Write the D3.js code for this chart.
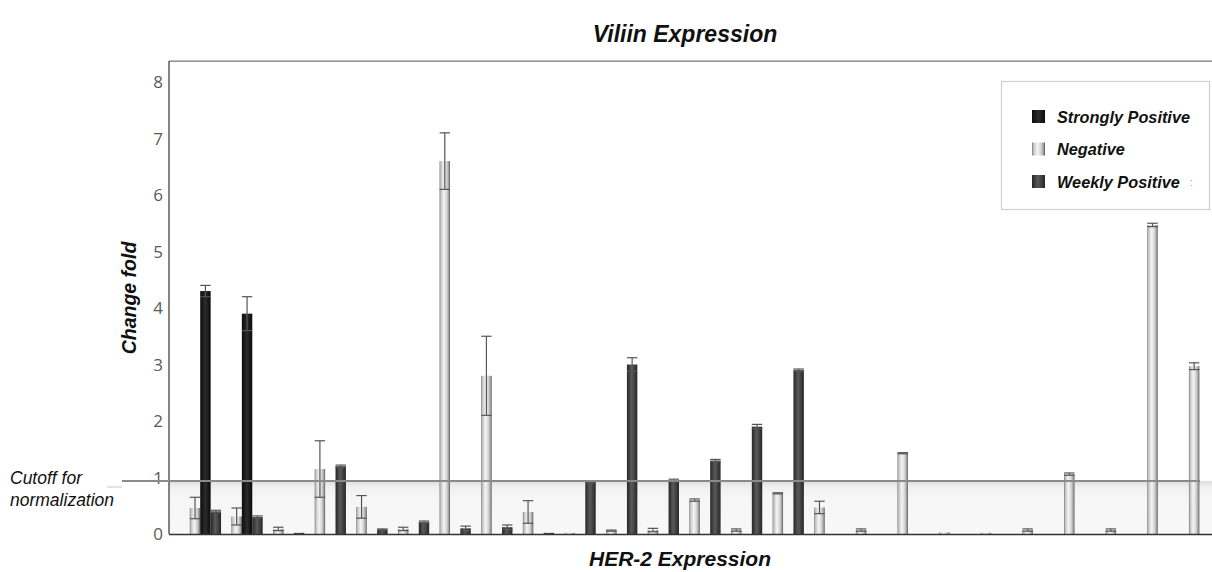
<!DOCTYPE html>
<html><head><meta charset="utf-8">
<script src="https://cdn.jsdelivr.net/npm/d3@7"></script>
<style>html,body{margin:0;padding:0;background:#fff;}svg{display:block;}</style>
</head><body>
<script>
// ---- data ----
const groups = d3.range(1, 26).map(String);
const negative      = [0.46,0.31,0.09,1.15,0.48,0.09,6.6,2.8,0.39,0.02,0.06,0.07,0.6,0.07,0.72,0.47,0.07,1.43,0.03,0.02,0.07,1.06,0.07,5.47,2.97];
const negativeErr   = [0.19,0.15,0.03,0.5,0.2,0.03,0.5,0.7,0.2,0,0.01,0.03,0.02,0.02,0.01,0.11,0.02,0.01,0,0,0.02,0.02,0.02,0.03,0.06];
const strong        = [4.3,3.9,0,0,0,0,0,0,0,0,0,0,0,0,0,0,0,0,0,0,0,0,0,0,0];
const strongErr     = [0.1,0.3,0,0,0,0,0,0,0,0,0,0,0,0,0,0,0,0,0,0,0,0,0,0,0];
const weak          = [0.4,0.3,0.02,1.2,0.08,0.21,0.1,0.12,0.02,0.92,3.0,0.95,1.3,1.9,2.9,0,0,0,0,0,0,0,0,0,0];
const weakErr       = [0.02,0.02,0,0.02,0.01,0.02,0.04,0.04,0,0.02,0.12,0.02,0.02,0.04,0.02,0,0,0,0,0,0,0,0,0,0];
const yTicks = [0,1,2,3,4,5,6,7,8];
const seriesNames = ["Strongly Positive","Negative","Weekly Positive"];
const cutoff = 0.94;
const title = "Viliin Expression", xTitle = "HER-2 Expression", yTitle = "Change fold";
const cutoffLabel = ["Cutoff for","normalization"];

const W = 1212, H = 572;
const svg = d3.select("body").append("svg").attr("width", W).attr("height", H);
const defs = svg.append("defs");
function hgrad(id, stops){
  const g = defs.append("linearGradient").attr("id", id).attr("x1","0%").attr("x2","100%").attr("y1","0%").attr("y2","0%");
  stops.forEach(s => g.append("stop").attr("offset", s[0]).attr("stop-color", s[1]));
}
hgrad("gStrong", [["0%","#0c0c0c"],["50%","#2b2b2b"],["100%","#0a0a0a"]]);
hgrad("gNeg", [["0%","#6a6a6a"],["10%","#c0c0c0"],["42%","#f5f5f5"],["70%","#d2d2d2"],["90%","#989898"],["100%","#4e4e4e"]]);
hgrad("gWeak", [["0%","#262626"],["45%","#5a5a5a"],["100%","#262626"]]);
const vg = defs.append("linearGradient").attr("id","gBand").attr("x1","0").attr("x2","0").attr("y1","0").attr("y2","1");
[["0%","#dedede"],["12%","#f0f0f0"],["30%","#f6f6f6"],["100%","#f8f8f8"]].forEach(s=>vg.append("stop").attr("offset",s[0]).attr("stop-color",s[1]));

const x0 = 169, xEnd = 1212;
const y = d3.scaleLinear().domain([0, 8]).range([534, 82]);
const x = d3.scaleBand().domain(groups).range([x0, x0 + 41.63*25.75]).paddingInner(0.25).paddingOuter(0.5);
const slot = d3.scaleBand().domain(["neg","strong","weak"]).range([0, x.bandwidth()]);

// shaded band below cutoff
svg.append("rect").attr("x", x0).attr("y", y(cutoff)).attr("width", xEnd - x0).attr("height", y(0) - y(cutoff)).attr("fill", "url(#gBand)");

// frame
svg.append("line").attr("x1", x0).attr("x2", xEnd).attr("y1", y(8.37)).attr("y2", y(8.37)).attr("stroke", "#555").attr("stroke-width", 1);
svg.append("line").attr("x1", x0).attr("x2", x0).attr("y1", y(8.37)).attr("y2", y(0)).attr("stroke", "#333").attr("stroke-width", 1.2);

// y axis labels
const yAxis = d3.axisLeft(y).tickValues(yTicks).tickSize(0).tickPadding(6);
const ga = svg.append("g").attr("transform", `translate(${x0},0)`).call(yAxis);
ga.select(".domain").remove();
ga.selectAll("text").attr("font-family", "'Open Sans', sans-serif").attr("font-size", 17).attr("fill", "#5a5a5a").attr("dy", "0.35em");

// bars
const series = [
  {key:"neg", vals:negative, errs:negativeErr, fill:"url(#gNeg)"},
  {key:"strong", vals:strong, errs:strongErr, fill:"url(#gStrong)"},
  {key:"weak", vals:weak, errs:weakErr, fill:"url(#gWeak)"}
];
series.forEach(s => {
  const data = groups.map((g,i)=>({g, v:s.vals[i], e:s.errs[i]})).filter(d=>d.v>0);
  const gg = svg.append("g");
  gg.selectAll("rect").data(data).join("rect")
    .attr("x", d => x(d.g) + slot(s.key))
    .attr("y", d => y(d.v))
    .attr("width", slot.bandwidth())
    .attr("height", d => y(0) - y(d.v))
    .attr("fill", s.fill);
  const eg = gg.selectAll("g.err").data(data.filter(d=>d.e>0)).join("g").attr("class","err")
    .attr("stroke", "#555").attr("stroke-width", 1.2);
  eg.append("line")
    .attr("x1", d => x(d.g) + slot(s.key) + slot.bandwidth()/2)
    .attr("x2", d => x(d.g) + slot(s.key) + slot.bandwidth()/2)
    .attr("y1", d => y(d.v + d.e)).attr("y2", d => y(Math.max(0, d.v - d.e)));
  [1,-1].forEach(sg => eg.append("line")
    .attr("x1", d => x(d.g) + slot(s.key))
    .attr("x2", d => x(d.g) + slot(s.key) + slot.bandwidth())
    .attr("y1", d => y(Math.max(0, d.v + sg*d.e))).attr("y2", d => y(Math.max(0, d.v + sg*d.e))));
});

// baseline
svg.append("line").attr("x1", x0).attr("x2", xEnd).attr("y1", y(0)+0.5).attr("y2", y(0)+0.5).attr("stroke", "#333").attr("stroke-width", 1.5);

// cutoff line
svg.append("line").attr("x1", 107).attr("x2", 122).attr("y1", y(cutoff)+6).attr("y2", y(cutoff)+6).attr("stroke", "#e2e2e2").attr("stroke-width", 2);
svg.append("line").attr("x1", 122).attr("x2", 1200).attr("y1", y(cutoff)).attr("y2", y(cutoff)).attr("stroke", "#8a8a8a").attr("stroke-width", 2);

const font = "'Liberation Sans', Arial, sans-serif";
// titles
svg.append("text").attr("x", 685).attr("y", 42).attr("text-anchor","middle").attr("font-family", font).attr("font-size", 23).attr("font-weight","bold").attr("font-style","italic").attr("fill","#111").text(title);
svg.append("text").attr("x", 680).attr("y", 566).attr("text-anchor","middle").attr("font-family", font).attr("font-size", 21).attr("font-weight","bold").attr("font-style","italic").attr("fill","#111").text(xTitle);
svg.append("text").attr("transform","translate(136,298) rotate(-90)").attr("text-anchor","middle").attr("font-family", font).attr("font-size", 19.5).attr("font-weight","bold").attr("font-style","italic").attr("fill","#111").text(yTitle);
cutoffLabel.forEach((t,i)=> svg.append("text").attr("x", 10).attr("y", 484 + i*22).attr("font-family", font).attr("font-size", 17.5).attr("font-style","italic").attr("fill","#111").text(t));

// legend
svg.append("rect").attr("x", 1001.5).attr("y", 81.5).attr("width", 208).attr("height", 128).attr("fill","#fff").attr("stroke","#cfcfcf").attr("stroke-width",1.2);
const legFills = ["url(#gStrong)","url(#gNeg)","url(#gWeak)"];
seriesNames.forEach((n,i)=>{
  const yy = 117 + i*32.5;
  svg.append("rect").attr("x", 1032).attr("y", yy-7).attr("width", 13).attr("height", 13).attr("fill", legFills[i]);
  svg.append("text").attr("x", 1057).attr("y", yy).attr("dy","0.35em").attr("font-family", font).attr("font-size", 16.3).attr("font-weight","bold").attr("font-style","italic").attr("fill","#111").text(n);
});
svg.append("text").attr("x", 1190).attr("y", 182).attr("dy","0.35em").attr("font-family", font).attr("font-size", 10).attr("fill","#999").text(":");
</script>
</body></html>
